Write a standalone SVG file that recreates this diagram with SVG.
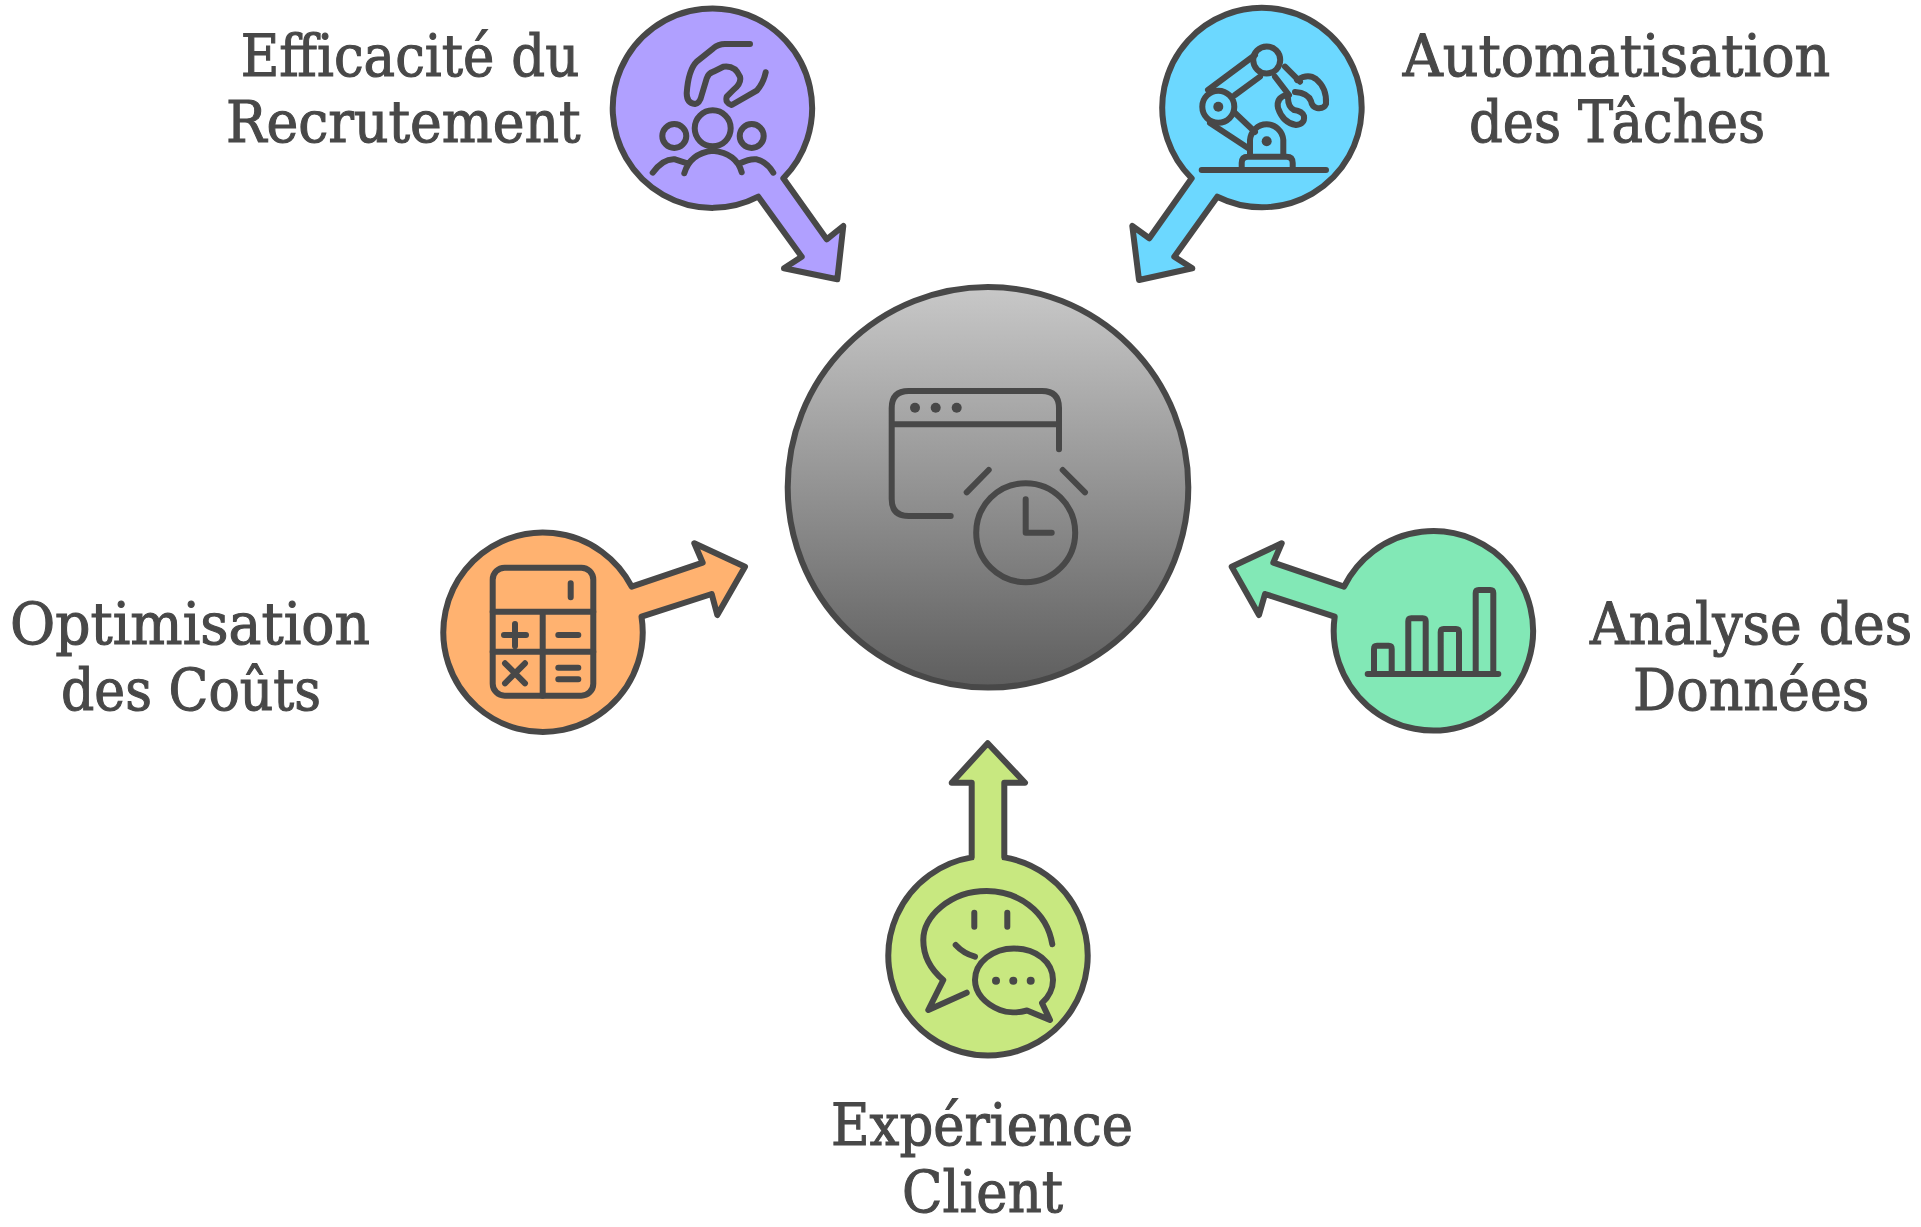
<svg xmlns="http://www.w3.org/2000/svg" width="1921" height="1227" viewBox="0 0 1921 1227">
<style>
.s{stroke:#484848;stroke-width:6;stroke-linejoin:round;stroke-linecap:round}
.i{fill:none;stroke:#484848;stroke-width:6;stroke-linejoin:round;stroke-linecap:round}
.d{fill:#484848;stroke:none}
text{font-family:"DejaVu Serif","Liberation Serif",serif;font-size:57px;fill:#484848;stroke:#484848;stroke-width:1.1}
</style>
<defs><linearGradient id="g" x1="0" y1="0" x2="0" y2="1"><stop offset="0" stop-color="#c8c8c8"/><stop offset="1" stop-color="#5e5e5e"/></linearGradient></defs>
<rect width="1921" height="1227" fill="#fff"/>
<g id="center"><circle class="s" cx="988" cy="487.300" r="200.300" fill="url(#g)"/>
<path class="i" d="M1059 449.300V408Q1059 391 1042 391H908.700Q891.700 391 891.700 408V499Q891.700 516 908.700 516H950.700M891.700 424.300H1059M966.700 492.300L988.700 470M1062.700 470L1085 492.300"/>
<circle class="i" cx="1025.700" cy="532.700" r="49.500"/><path class="i" d="M1025.700 499.300V532.700H1051.700"/>
<circle class="d" cx="915" cy="407.700" r="5"/><circle class="d" cx="935.700" cy="407.700" r="5"/><circle class="d" cx="956.700" cy="407.700" r="5"/></g>
<g id="recrutement"><path class="s" fill="#b0a0ff" d="M783.300 178.300L826.700 239.300L843.300 226L837.300 279.300L784 268.300L801.700 256.700L758.300 196.700A99.700 99.700 0 1 1 783.300 178.300Z"/>
<path class="i" d="M750 44H725Q718.300 44 713.300 48.300L696.700 61.700Q688.300 70 686.700 93.300Q686.700 103.300 695 104Q700 103.300 701.700 95L706.700 78.300Q708.300 73.300 713.300 71.700L723.300 66.700Q735 65 740 76.700Q741.700 83.300 733.300 90L726.700 96.700Q725 103.300 731.700 105L756.700 90.700Q763.300 83.300 765.700 72.300"/>
<circle class="i" cx="712.700" cy="128.300" r="18"/><circle class="i" cx="674.300" cy="136" r="12"/><circle class="i" cx="751.700" cy="136" r="12"/>
<path class="i" d="M684.300 173.300Q690 153.300 712.700 150.700Q736.700 153.300 741.700 172.300M652.700 172.700Q663.300 158.300 675 159.300L687.300 163.300M740 163.300Q750 158.300 756.700 159.300Q766.700 161.700 773.300 172.700"/>
<text x="240.700" y="76" textLength="338.600" lengthAdjust="spacingAndGlyphs">Efficacité du</text><text x="226" y="142" textLength="354.700" lengthAdjust="spacingAndGlyphs">Recrutement</text></g>
<g id="automatisation"><path class="s" fill="#6cd8ff" d="M1191.700 178.300L1149.300 238.300L1132.300 226L1139 280L1192.300 268.300L1174.300 256.700L1217.300 196.700A99.700 99.700 0 1 0 1191.700 178.300Z"/>
<path class="i" d="M1201.700 170H1326M1241.700 170V163Q1241.700 156.700 1248 156.700H1286.500Q1292.700 156.700 1292.700 163V170M1250 156.700V140A16.700 17 0 0 1 1283.300 140V156.700M1208 90L1255 55M1235 95L1260 76.700M1210 123L1248 148M1235 113L1255 132M1285 66.700L1300 81.700M1275 76.700L1289 95"/>
<circle class="i" cx="1218.300" cy="106.700" r="16"/><circle class="i" cx="1266.700" cy="60" r="13.500"/>
<circle class="d" cx="1218.300" cy="106.700" r="5"/><circle class="d" cx="1266.700" cy="141.300" r="5"/>
<path class="i" d="M1297 80Q1308 73 1316 79Q1327 88 1326 104Q1324 109 1317 108Q1312 107 1311 101Q1308 93 1295 92M1286 95Q1276 98 1278 108Q1283 123 1296 125Q1305 124 1304 116Q1302 111 1294 110Q1288 107 1288 98"/>
<text x="1402.700" y="76" textLength="427.600" lengthAdjust="spacingAndGlyphs">Automatisation</text><text x="1469" y="142" textLength="296" lengthAdjust="spacingAndGlyphs">des Tâches</text></g>
<g id="couts"><path class="s" fill="#ffb270" d="M631.700 586.700L702.700 562.700L694.300 543.300L745 566.700L717.300 615L711.700 594L641.500 616.700A99.700 99.700 0 1 1 631.700 586.700Z"/>
<rect class="i" x="492.700" y="567.700" width="100.600" height="128" rx="12"/><path class="i" d="M492.700 611.700H593.300M492.700 651.700H593.300M542.700 611.700V695.700M570.700 583.300V597.300M504 635H526M515 624V646M558.300 635H578.300M505 663.300L525 683.300M525 663.300L505 683.300M558.300 667.700H578.300M558.300 679.300H578.300"/>
<text x="10" y="644" textLength="360" lengthAdjust="spacingAndGlyphs">Optimisation</text><text x="61" y="710" textLength="260" lengthAdjust="spacingAndGlyphs">des Coûts</text></g>
<g id="donnees"><path class="s" fill="#82e8b6" d="M1344 586.700L1273.300 562.700L1281.700 543.300L1231.700 566.700L1259 615L1265 594L1334.700 616.700A99.700 99.700 0 1 0 1344 586.700Z"/>
<path class="i" d="M1367.700 674H1498.300M1374 674V649Q1374 645.700 1377 645.700H1388.700Q1391.700 645.700 1391.700 649V674M1408.300 674V621.300Q1408.300 618.300 1411.300 618.300H1422.700Q1425.700 618.300 1425.700 621.300V674M1440.700 674V632Q1440.700 629 1443.700 629H1456Q1459 629 1459 632V674M1475.700 674V593Q1475.700 590 1478.700 590H1490.300Q1493.300 590 1493.300 593V674"/>
<text transform="translate(1590 644) scale(.94 1)">Analyse des</text><text x="1633" y="710" textLength="236.500" lengthAdjust="spacingAndGlyphs">Données</text></g>
<g id="client"><path class="s" fill="#c8e880" d="M971.700 857.400V782.700H951.700L987.700 743.300L1025 782.700H1004.300V857.400A99.700 99.700 0 1 1 971.700 857.400Z"/>
<path class="i" d="M1052.300 944.300C1046.700 910 1016.700 891 986.700 891C950 891 923.300 916.700 923.300 940Q923.300 963.300 943.300 980L928.300 1010L966.700 992.700M955.700 945Q963.300 953.300 975 956.700M974.300 912.700V926.700M1007.300 912.700V926.700"/>
<path class="i" d="M1027 1010.500C1018 1013 1007 1013 1000 1010C985 1004 975 993 975 980C975 962 993 948.500 1014 948.500C1036 948.500 1053 962 1053 980C1053 988 1049 997 1042 1003L1050 1020Z"/>
<circle class="d" cx="996" cy="980.700" r="4"/><circle class="d" cx="1013.300" cy="980.700" r="4"/><circle class="d" cx="1030.700" cy="980.700" r="4"/>
<text x="831" y="1145" textLength="302" lengthAdjust="spacingAndGlyphs">Expérience</text><text x="902" y="1212" textLength="161" lengthAdjust="spacingAndGlyphs">Client</text></g>
</svg>
